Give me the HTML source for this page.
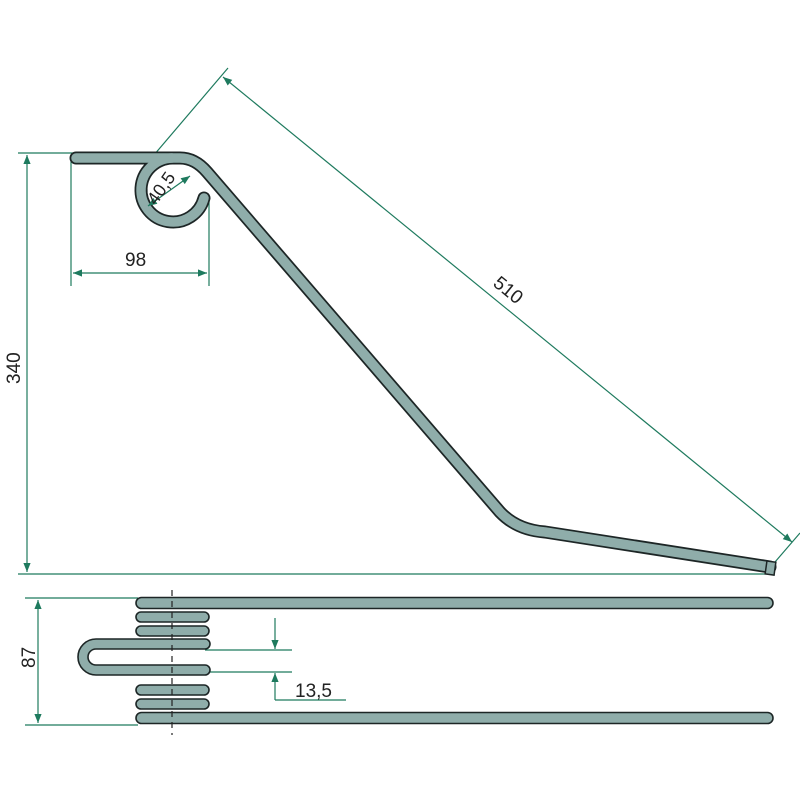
<!DOCTYPE html>
<html><head><meta charset="utf-8"><style>
html,body{margin:0;padding:0;background:#fff;}
svg{display:block}
text{font-family:"Liberation Sans",sans-serif;fill:#222;}
</style></head><body>
<svg width="800" height="800" viewBox="0 0 800 800" xmlns="http://www.w3.org/2000/svg">
<defs>
<marker id="a" viewBox="0 0 10 10" refX="10" refY="5" markerWidth="12" markerHeight="9" orient="auto-start-reverse" markerUnits="userSpaceOnUse">
<path d="M0,1 L10,5 L0,9 Z" fill="#1e7a5e"/></marker>
</defs>
<g stroke="#1e7a5e" stroke-width="1.2" fill="none">
<line x1="18" y1="153" x2="75" y2="153"/>
<line x1="18" y1="574" x2="775" y2="574"/>
<line x1="27" y1="155" x2="27" y2="572" marker-start="url(#a)" marker-end="url(#a)"/>
<line x1="71" y1="160" x2="71" y2="286"/>
<line x1="209" y1="200" x2="209" y2="286"/>
<line x1="73" y1="273" x2="207" y2="273" marker-start="url(#a)" marker-end="url(#a)"/>
<line x1="148" y1="162" x2="228" y2="68"/>
<line x1="775" y1="562" x2="800" y2="533"/>
<line x1="223" y1="77" x2="792" y2="542" marker-start="url(#a)" marker-end="url(#a)"/>
<line x1="25" y1="598" x2="138" y2="598"/>
<line x1="25" y1="725" x2="138" y2="725"/>
<line x1="38" y1="600" x2="38" y2="723" marker-start="url(#a)" marker-end="url(#a)"/>
<line x1="205" y1="650" x2="292" y2="650"/>
<line x1="205" y1="672" x2="292" y2="672"/>
<line x1="275" y1="618" x2="275" y2="649" marker-end="url(#a)"/>
<line x1="275" y1="700" x2="275" y2="673" marker-end="url(#a)"/>
<line x1="275" y1="700" x2="346" y2="700"/>
</g>
<g fill="none" stroke-linecap="round" stroke-linejoin="round">
<path d="M76,158 H180 Q195,158 207,172 L500,512 Q517,530 545,532 L770,567" stroke="#1d2626" stroke-width="13"/>
<path d="M172,158 A32,32 0 1 0 204,198" stroke="#1d2626" stroke-width="13"/>
<path d="M76,158 H180 Q195,158 207,172 L500,512 Q517,530 545,532 L770,567" stroke="#8fadaa" stroke-width="9.5"/>
<path d="M172,158 A32,32 0 1 0 204,198" stroke="#8fadaa" stroke-width="9.5"/>
</g>
<rect x="766" y="561.5" width="9" height="13" fill="#8fadaa" stroke="#1d2626" stroke-width="1.5" transform="rotate(8 770 568)"/>
<line x1="148" y1="206" x2="190" y2="176" stroke="#1e7a5e" stroke-width="1.2" marker-start="url(#a)" marker-end="url(#a)"/>
<text x="0" y="0" font-size="18" transform="translate(156,206) rotate(-55)">40,5</text>
<g fill="#8fadaa" stroke="#1d2626" stroke-width="1.6">
<rect x="136" y="597.5" width="637" height="11" rx="5.5"/>
<rect x="136" y="712.5" width="637" height="11" rx="5.5"/>
<rect x="136" y="612" width="73" height="10" rx="5"/>
<rect x="136" y="626" width="73" height="10" rx="5"/>
<rect x="136" y="685" width="73" height="10" rx="5"/>
<rect x="136" y="699" width="73" height="10" rx="5"/>
<path d="M205,639 H96 A18,18 0 0 0 96,675 H205 A5,5 0 0 0 205,665 H96 A8,8 0 0 1 96,649 H205 A5,5 0 0 0 205,639 Z"/>
</g>
<line x1="172" y1="590" x2="172" y2="735" stroke="#222" stroke-width="1.2" stroke-dasharray="6,5"/>
<text x="125" y="266" font-size="19">98</text>
<text x="0" y="0" font-size="19" transform="translate(20,384) rotate(-90)">340</text>
<text x="0" y="0" font-size="19" transform="translate(492,285) rotate(39)">510</text>
<text x="0" y="0" font-size="19" transform="translate(35,668) rotate(-90)">87</text>
<text x="295" y="697" font-size="19">13,5</text>
</svg>
</body></html>
